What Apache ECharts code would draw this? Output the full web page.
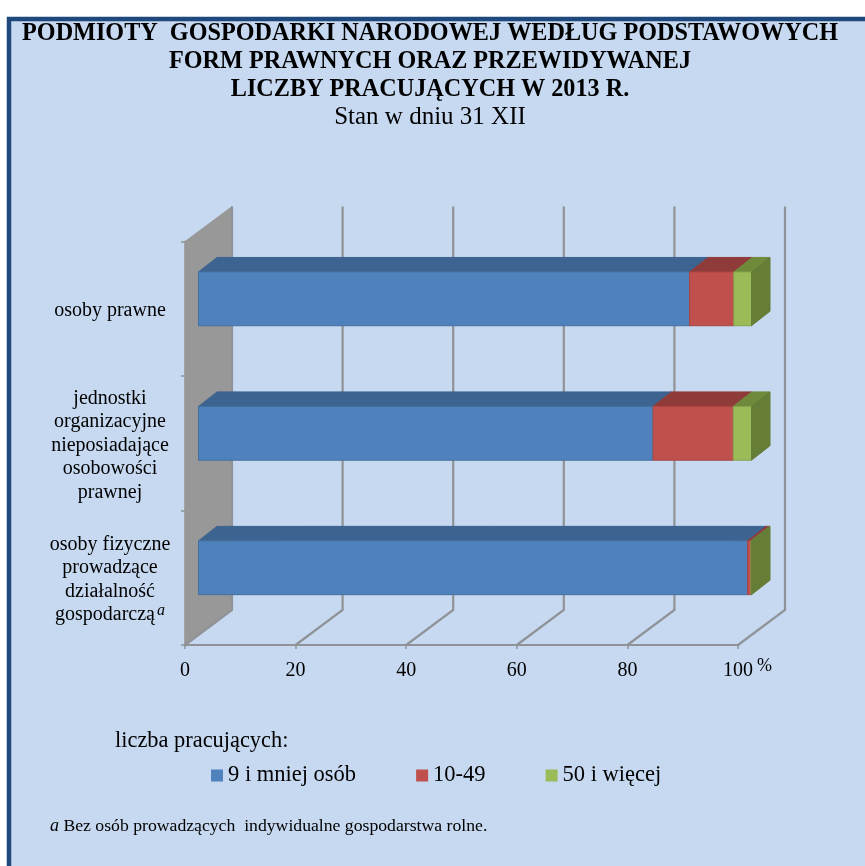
<!DOCTYPE html>
<html><head><meta charset="utf-8">
<style>html,body{margin:0;padding:0;background:#fff}#c{width:865px;height:866px}</style>
<script src="https://cdn.jsdelivr.net/npm/echarts@6/dist/echarts.min.js"></script>
</head><body><div id="c"></div>
<script>
const categories = ['osoby prawne','jednostki\norganizacyjne\nnieposiadające\nosobowości\nprawnej','osoby fizyczne\nprowadzące\ndziałalność\ngospodarczą'];
const seriesNames = ['9 i mniej osób','10-49','50 i więcej'];
const small = [88.8, 82.2, 99.3];
const medium = [8.0, 14.5, 0.6];
const large = [3.2, 3.3, 0.1];
const ticks = [0,20,40,60,80,100];

const FONT = '"Liberation Serif","Times New Roman",serif';
const frontFaces = ['#4f81bd','#c0504d','#9bbb59'];
const topFaces = ['#3d6391','#8f3b39','#6f8a3b'];
const edges = ['#44709f','#a94643','#86a34c'];
const sideFace = '#667d37';
const WALL = [47,-35], BAR_OFF = [13.5,-10], DEPTH = [18.5,-14.5];
const BAR_RATIO = 0.4;

function poly(pts, fill, stroke){
  return {type:'polygon',shape:{points:pts},style:{fill:fill,stroke:stroke||fill,lineWidth:1}};
}
function barRender(si){
  return function(params, api){
    const c0 = api.coord([api.value(0), api.value(2)]);
    const c1 = api.coord([api.value(1), api.value(2)]);
    const h = api.size([0,1])[1]*BAR_RATIO;
    const x0=c0[0]+BAR_OFF[0], x1=c1[0]+BAR_OFF[0], yc=c0[1]+BAR_OFF[1];
    const t=yc-h/2, b=yc+h/2;
    const kids=[
      poly([[x0,t],[x1,t],[x1+DEPTH[0],t+DEPTH[1]],[x0+DEPTH[0],t+DEPTH[1]]],topFaces[si],topFaces[si]),
      poly([[x0,t],[x1,t],[x1,b],[x0,b]],frontFaces[si],edges[si])
    ];
    if(si===2){
      kids.push(poly([[x1,t],[x1+DEPTH[0],t+DEPTH[1]],[x1+DEPTH[0],b+DEPTH[1]],[x1,b]],sideFace,sideFace));
    }
    return {type:'group',children:kids};
  };
}
function barData(si){
  return categories.map((_,i)=>{
    const arr=[small,medium,large];
    let s=0; for(let k=0;k<si;k++) s+=arr[k][i];
    return [s,s+arr[si][i],i];
  });
}
const chart = echarts.init(document.getElementById('c'));
chart.setOption({
  animation:false,
  backgroundColor:'#ffffff',
  textStyle:{fontFamily:FONT},
  title:{
    text:'PODMIOTY  GOSPODARKI NARODOWEJ WEDŁUG PODSTAWOWYCH\nFORM PRAWNYCH ORAZ PRZEWIDYWANEJ\nLICZBY PRACUJĄCYCH W 2013 R.',
    subtext:'Stan w dniu 31 XII',
    left:430,top:20,textAlign:'center',itemGap:0,padding:0,
    textStyle:{fontFamily:FONT,fontWeight:'bold',fontSize:24.2,color:'#000',lineHeight:28},
    subtextStyle:{fontFamily:FONT,fontSize:25,color:'#000',lineHeight:26}
  },
  legend:{
    data:seriesNames.map(n=>({name:n,icon:'rect'})),
    left:206,top:759,itemWidth:12,itemHeight:12,itemGap:60,
    textStyle:{fontFamily:FONT,fontSize:22.5,color:'#000'},
    selectedMode:false
  },
  grid:{left:185,top:241.6,width:553,height:403.4},
  xAxis:{type:'value',min:0,max:100,interval:20,
    name:'%',nameLocation:'end',nameGap:18,
    nameTextStyle:{fontFamily:FONT,fontSize:18,color:'#000',align:'left',verticalAlign:'top',padding:[12,0,0,0]},
    axisLine:{show:true,lineStyle:{color:'#8f9296',width:2}},
    axisTick:{show:true,length:4,lineStyle:{color:'#8f9296',width:1.5}},
    axisLabel:{fontFamily:FONT,fontSize:20,color:'#000',margin:16,hideOverlap:false,showMinLabel:true,showMaxLabel:true},
    splitLine:{show:false}},
  yAxis:{type:'category',data:categories,inverse:true,
    axisLine:{show:true,lineStyle:{color:'#aab1ba',width:2}},
    axisTick:{show:true,length:4,lineStyle:{color:'#8f9296',width:1.5}},
    axisLabel:{fontFamily:FONT,fontSize:20,color:'#000',margin:75,align:'center',lineHeight:23.5,interval:0,padding:[4,0,0,0],
      formatter:v=>v.endsWith('gospodarczą')?v+'{sup|a}':v,
      rich:{sup:{fontFamily:FONT,fontStyle:'italic',fontSize:16,color:'#000',verticalAlign:'top',padding:[0,0,8,2]}}},
    splitLine:{show:false}},
  series:[
    {type:'custom',name:'wall',z:2,silent:true,data:[[0]],encode:{x:0},
     renderItem:(params,api)=>{
       const cs=params.coordSys, x=cs.x, t=cs.y, b=cs.y+cs.height;
       return poly([[x,t],[x+WALL[0],t+WALL[1]],[x+WALL[0],b+WALL[1]],[x,b]],'#989898','#989898');
     }},
    {type:'custom',name:'grid',z:2,silent:true,data:ticks.map(t=>[t]),encode:{x:0},
     renderItem:(params,api)=>{
       const v=api.value(0);
       const x=api.coord([v,0])[0], cs=params.coordSys, t=cs.y, b=cs.y+cs.height;
       const st={stroke:'#8f9296',lineWidth:2.2,fill:null};
       return {type:'group',children:[
         {type:'polyline',shape:{points:[[x,b],[x+WALL[0],b+WALL[1]],[x+WALL[0],t+WALL[1]]]},style:st}
       ]};
     }}
  ].concat(seriesNames.map((n,si)=>({
     type:'custom',name:n,z:3+si,data:barData(si),encode:{x:[0,1],y:2},
     itemStyle:{color:frontFaces[si],borderColor:edges[si]},
     renderItem:barRender(si)
  }))),
  graphic:[
    {type:'rect',z:-10,silent:true,shape:{x:9,y:19,width:900,height:900},style:{fill:'#c6d9f1',stroke:'#1f497d',lineWidth:4.5}},
    {type:'text',z:10,silent:true,left:115,top:730,style:{text:'liczba pracujących:',font:'22.4px '+FONT,fill:'#000'}},
    {type:'text',z:10,silent:true,left:50,top:817,style:{
      text:'{i|a} Bez osób prowadzących  indywidualne gospodarstwa rolne.',
      font:'17.7px '+FONT,fill:'#000',
      rich:{i:{fontFamily:FONT,fontStyle:'italic',fontSize:18,fill:'#000'}}}}
  ]
});
</script></body></html>
